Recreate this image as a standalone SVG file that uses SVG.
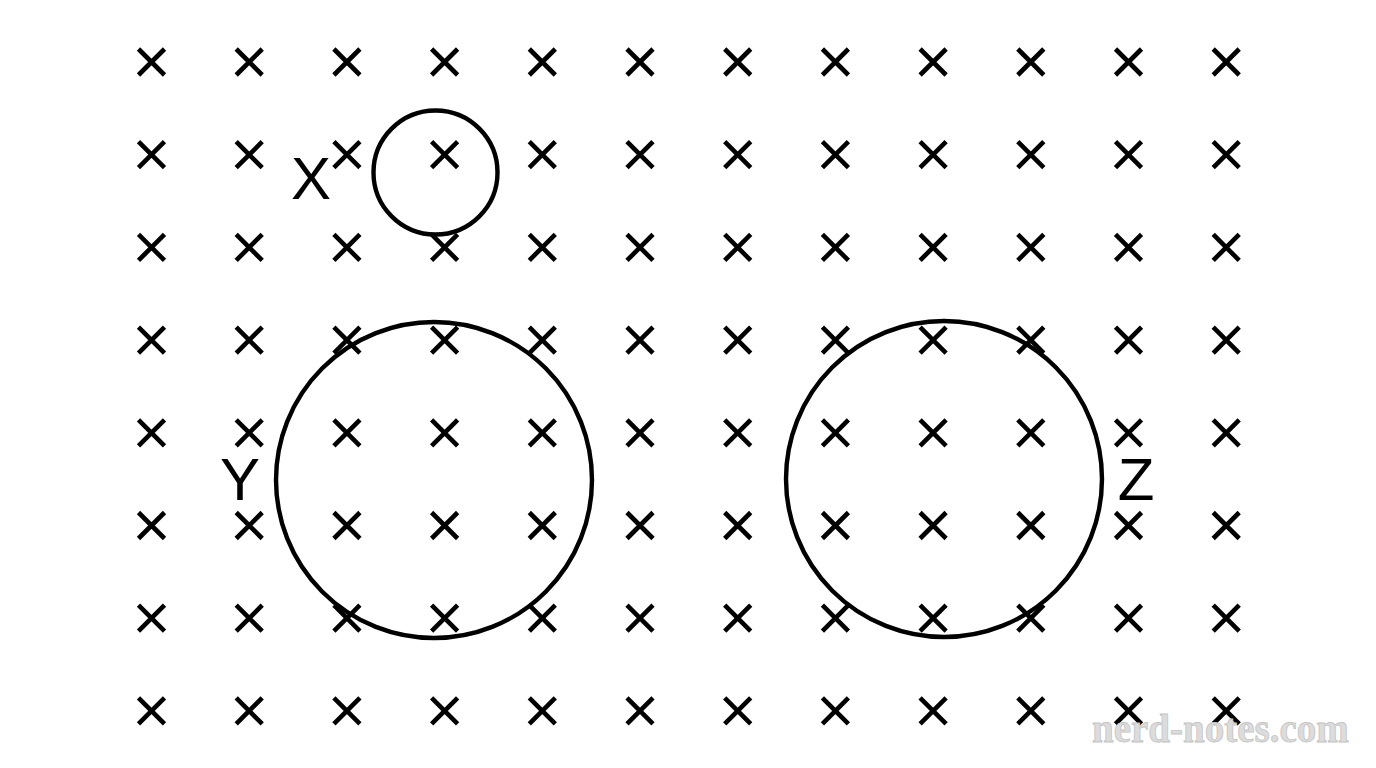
<svg xmlns="http://www.w3.org/2000/svg" xmlns:xlink="http://www.w3.org/1999/xlink" width="1376" height="768" viewBox="0 0 1376 768">
<style>
.cx{stroke:#000;stroke-width:4.6;fill:none;stroke-linecap:butt}
.ring{stroke:#000;stroke-width:4.4;fill:none}
.lbl{font-family:"Liberation Sans",Arial,sans-serif;font-size:60px;fill:#000;text-anchor:middle}
.wm{font-family:"Liberation Serif","Times New Roman",serif;font-weight:bold;font-size:39px;fill:#dcdcdc;stroke:#c4c4c4;stroke-width:0.8}
</style>
<defs>
<path id="x" class="cx" d="M-13,-13L13,13M13,-13L-13,13"/>
</defs>
<rect width="1376" height="768" fill="#fff"/>
<g id="field">
<g id="row0" transform="translate(0,62)">
<use xlink:href="#x" x="151.5"/><use xlink:href="#x" x="249.2"/><use xlink:href="#x" x="346.9"/><use xlink:href="#x" x="444.6"/><use xlink:href="#x" x="542.3"/><use xlink:href="#x" x="640"/><use xlink:href="#x" x="737.7"/><use xlink:href="#x" x="835.4"/><use xlink:href="#x" x="933.1"/><use xlink:href="#x" x="1030.8"/><use xlink:href="#x" x="1128.5"/><use xlink:href="#x" x="1226.2"/>
</g>
<g id="row1" transform="translate(0,154.7)">
<use xlink:href="#x" x="151.5"/><use xlink:href="#x" x="249.2"/><use xlink:href="#x" x="346.9"/><use xlink:href="#x" x="444.6"/><use xlink:href="#x" x="542.3"/><use xlink:href="#x" x="640"/><use xlink:href="#x" x="737.7"/><use xlink:href="#x" x="835.4"/><use xlink:href="#x" x="933.1"/><use xlink:href="#x" x="1030.8"/><use xlink:href="#x" x="1128.5"/><use xlink:href="#x" x="1226.2"/>
</g>
<g id="row2" transform="translate(0,247.4)">
<use xlink:href="#x" x="151.5"/><use xlink:href="#x" x="249.2"/><use xlink:href="#x" x="346.9"/><use xlink:href="#x" x="444.6"/><use xlink:href="#x" x="542.3"/><use xlink:href="#x" x="640"/><use xlink:href="#x" x="737.7"/><use xlink:href="#x" x="835.4"/><use xlink:href="#x" x="933.1"/><use xlink:href="#x" x="1030.8"/><use xlink:href="#x" x="1128.5"/><use xlink:href="#x" x="1226.2"/>
</g>
<g id="row3" transform="translate(0,340.1)">
<use xlink:href="#x" x="151.5"/><use xlink:href="#x" x="249.2"/><use xlink:href="#x" x="346.9"/><use xlink:href="#x" x="444.6"/><use xlink:href="#x" x="542.3"/><use xlink:href="#x" x="640"/><use xlink:href="#x" x="737.7"/><use xlink:href="#x" x="835.4"/><use xlink:href="#x" x="933.1"/><use xlink:href="#x" x="1030.8"/><use xlink:href="#x" x="1128.5"/><use xlink:href="#x" x="1226.2"/>
</g>
<g id="row4" transform="translate(0,432.8)">
<use xlink:href="#x" x="151.5"/><use xlink:href="#x" x="249.2"/><use xlink:href="#x" x="346.9"/><use xlink:href="#x" x="444.6"/><use xlink:href="#x" x="542.3"/><use xlink:href="#x" x="640"/><use xlink:href="#x" x="737.7"/><use xlink:href="#x" x="835.4"/><use xlink:href="#x" x="933.1"/><use xlink:href="#x" x="1030.8"/><use xlink:href="#x" x="1128.5"/><use xlink:href="#x" x="1226.2"/>
</g>
<g id="row5" transform="translate(0,525.5)">
<use xlink:href="#x" x="151.5"/><use xlink:href="#x" x="249.2"/><use xlink:href="#x" x="346.9"/><use xlink:href="#x" x="444.6"/><use xlink:href="#x" x="542.3"/><use xlink:href="#x" x="640"/><use xlink:href="#x" x="737.7"/><use xlink:href="#x" x="835.4"/><use xlink:href="#x" x="933.1"/><use xlink:href="#x" x="1030.8"/><use xlink:href="#x" x="1128.5"/><use xlink:href="#x" x="1226.2"/>
</g>
<g id="row6" transform="translate(0,618.2)">
<use xlink:href="#x" x="151.5"/><use xlink:href="#x" x="249.2"/><use xlink:href="#x" x="346.9"/><use xlink:href="#x" x="444.6"/><use xlink:href="#x" x="542.3"/><use xlink:href="#x" x="640"/><use xlink:href="#x" x="737.7"/><use xlink:href="#x" x="835.4"/><use xlink:href="#x" x="933.1"/><use xlink:href="#x" x="1030.8"/><use xlink:href="#x" x="1128.5"/><use xlink:href="#x" x="1226.2"/>
</g>
<g id="row7" transform="translate(0,710.9)">
<use xlink:href="#x" x="151.5"/><use xlink:href="#x" x="249.2"/><use xlink:href="#x" x="346.9"/><use xlink:href="#x" x="444.6"/><use xlink:href="#x" x="542.3"/><use xlink:href="#x" x="640"/><use xlink:href="#x" x="737.7"/><use xlink:href="#x" x="835.4"/><use xlink:href="#x" x="933.1"/><use xlink:href="#x" x="1030.8"/><use xlink:href="#x" x="1128.5"/><use xlink:href="#x" x="1226.2"/>
</g>
</g>
<g id="loopX">
<circle class="ring" cx="435.5" cy="172.5" r="62"/>
<text class="lbl" x="311" y="199">X</text>
</g>
<g id="loopY">
<circle class="ring" cx="434" cy="480" r="158"/>
<text class="lbl" x="240" y="500">Y</text>
</g>
<g id="loopZ">
<circle class="ring" cx="944" cy="479" r="158"/>
<text class="lbl" x="1136" y="500">Z</text>
</g>
<g id="connectors"/>
<text class="wm" x="1092" y="742">nerd-notes.com</text>
</svg>
